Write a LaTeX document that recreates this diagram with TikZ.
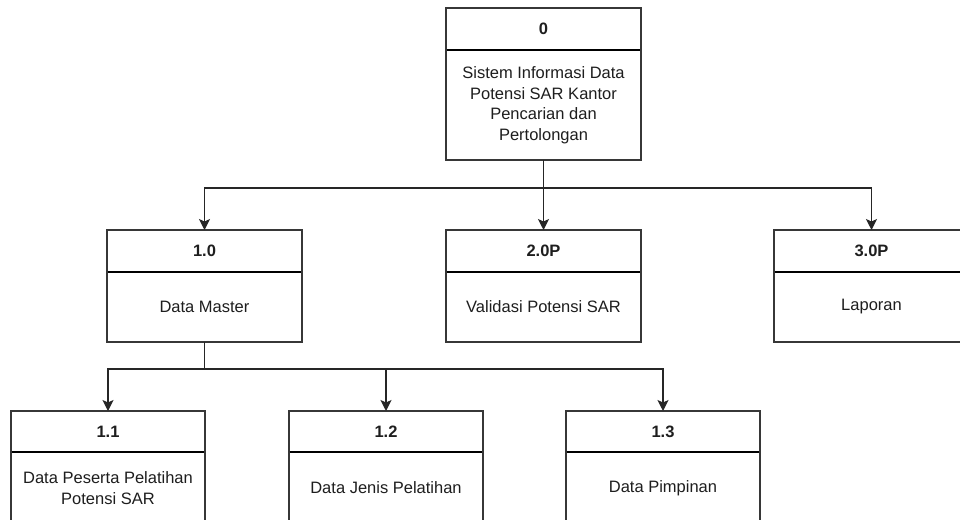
\documentclass[tikz,border=0pt]{standalone}
\usepackage{fontspec}
\setmainfont{Liberation Sans}
\usetikzlibrary{arrows.meta,calc}

\definecolor{frameline}{RGB}{55,55,55}
\definecolor{inktext}{RGB}{30,30,30}

\tikzset{
  boxframe/.style={draw=frameline, line width=1.3pt, fill=white, anchor=north west,
    inner sep=0pt, outer sep=0pt},
  divider/.style={draw=black, line width=1.9pt},
  titletext/.style={font=\fontsize{16.5}{20}\selectfont\bfseries, text=inktext, inner sep=0pt},
  bodytext/.style={font=\fontsize{16.5}{20.5}\selectfont, text=inktext, align=center, inner sep=0pt},
  link/.style={draw=black!85, line width=1.2pt},
  arrowlink/.style={link, -{Stealth[length=11pt,width=11pt,inset=2.5pt]}},
}

% #1 name, #2 left, #3 top, #4 width, #5 header height, #6 total height, #7 title, #8 body
\newcommand\procbox[8]{%
  \node[boxframe, minimum width=#4pt, minimum height=#6pt] (#1) at (#2,#3) {};
  \draw[divider] ({#2+0.6},{#3+#5}) -- ({#2+#4-0.6},{#3+#5});
  \node[titletext] (#1-title) at ({#2+#4/2},{#3+#5/2}) {#7};
  \node[bodytext] (#1-body) at ({#2+#4/2},{#3+(#5+#6)/2}) {#8};
}

\begin{document}
\begin{tikzpicture}[x=1pt,y=-1pt]
  \useasboundingbox (0,0) rectangle (960,519);

  % level 0
  \procbox{p0}{446}{8}{195}{42}{152}{0}{Sistem Informasi Data\\Potensi SAR Kantor\\Pencarian dan\\Pertolongan}

  % level 1
  \procbox{p1}{107}{230}{195}{42}{112}{1.0}{Data Master}
  \procbox{p2}{446}{230}{195}{42}{112}{2.0P}{Validasi Potensi SAR}
  \procbox{p3}{774}{230}{195}{42}{112}{3.0P}{Laporan}

  % level 2
  \procbox{p11}{11}{411}{194}{41}{113}{1.1}{Data Peserta Pelatihan\\Potensi SAR}
  \procbox{p12}{289}{411}{194}{41}{113}{1.2}{Data Jenis Pelatihan}
  \procbox{p13}{566}{411}{194}{41}{113}{1.3}{Data Pimpinan}

  % branching points
  \coordinate (bus0) at (543.5,188);
  \coordinate (bus1) at (204.5,369);

  \draw[link] (p0.south) -- (bus0);
  \draw[arrowlink] (bus0) -| (p1.north);
  \draw[arrowlink] (bus0) -- (p2.north);
  \draw[arrowlink] (bus0) -| (p3.north);

  \draw[link] (p1.south) -- (bus1);
  \draw[arrowlink] (bus1) -| (p11.north);
  \draw[arrowlink] (bus1) -| (p12.north);
  \draw[arrowlink] (bus1) -| (p13.north);
\end{tikzpicture}
\end{document}
